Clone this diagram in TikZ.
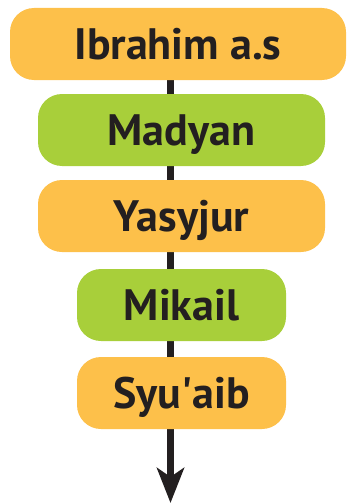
\documentclass[tikz,border=0pt]{standalone}
\usepackage{fontspec}
\setmainfont{PT Sans}
\usetikzlibrary{arrows.meta, backgrounds}
\definecolor{boxorange}{HTML}{FDC04A}
\definecolor{boxgreen}{HTML}{A8CF3A}
\definecolor{ink}{HTML}{231F20}

\begin{document}
\begin{tikzpicture}[x=1pt, y=-1pt,
    box/.style={rectangle, rounded corners=24pt, minimum height=72pt, inner sep=0pt,
        font=\fontsize{44}{52}\selectfont\bfseries, text=ink, text height=30.5pt, text depth=0pt},
    orangebox/.style={box, fill=boxorange},
    greenbox/.style={box, fill=boxgreen}]
    \useasboundingbox (0,0) rectangle (346,503);

    % Lineage boxes
    \node[orangebox, minimum width=336pt] (ibrahim) at (178, 44) {Ibrahim a.s};
    \node[greenbox, minimum width=287pt] (madyan) at (181.5, 130) {Madyan};
    \node[orangebox, minimum width=287pt] (yasyjur) at (181.5, 216) {Yasyjur};
    \node[greenbox, minimum width=209pt] (mikail) at (181.5, 305) {Mikail};
    \node[orangebox, minimum width=209pt] (syuaib) at (181.5, 393) {Syu\textquotesingle aib};

    % Descent line
    \coordinate (tip) at (170.5, 503);
    \begin{pgfonlayer}{background}
        \draw[ink, line width=7pt, -{Stealth[length=35pt, width=27pt, inset=9pt]}]
            (ibrahim.south -| tip) -- (tip);
    \end{pgfonlayer}
\end{tikzpicture}
\end{document}
